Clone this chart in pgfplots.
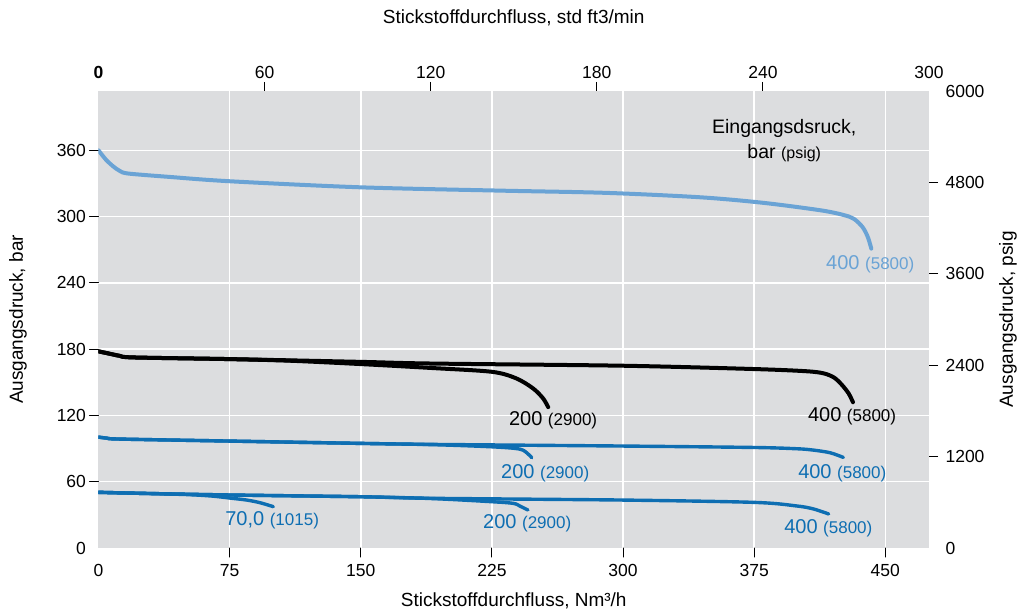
\documentclass[border=0pt]{standalone}
\usepackage{fontspec}
\setmainfont{Liberation Sans}
\usepackage{pgfplots}
\pgfplotsset{compat=1.18}
\definecolor{bg}{RGB}{220,221,223}
\definecolor{lblue}{RGB}{106,163,213}
\definecolor{mblue}{RGB}{14,110,178}
\newcommand{\tfont}{\fontsize{17.5}{20}\selectfont}
\newcommand{\lfont}{\fontsize{19}{22}\selectfont}
\newcommand{\lab}[2]{{\fontsize{20}{24}\selectfont #1\ }{\fontsize{17}{20}\selectfont (#2)}}
\begin{document}
\begin{tikzpicture}
\path[use as bounding box] (-98.5pt,-65pt) rectangle (931.5pt,548pt);
\begin{axis}[
  at={(0,0)}, anchor=south west,
  scale only axis, width=830.5pt, height=457pt,
  xmin=0, xmax=475, ymin=0, ymax=413.7,
  xtick={75,150,...,450}, ytick={60,120,...,360},
  extra x ticks={0}, extra y ticks={0},
  extra tick style={tick style={draw=none}, grid=none},
  xtick pos=left, ytick pos=left,
  tick align=outside,
  major tick length=9pt,
  tick style={black, line width=1pt},
  separate axis lines,
  axis line style={draw=none},
  grid=major, major grid style={white, line width=1.5pt},
  axis background/.style={fill=bg},
  ticklabel style={font=\tfont},
  xticklabel style={yshift=-4pt},
  /pgf/number format/assume math mode=true,
  xlabel={Stickstoffdurchfluss, Nm³/h},
  ylabel={Ausgangsdruck, bar},
  label style={font=\lfont},
  xlabel style={at={(axis description cs:0.5,-0.116)}, anchor=center},
  ylabel style={at={(axis description cs:-0.0969,0.5)}, anchor=center},
  line cap=round, line join=round,
]
% light blue 400
\addplot[lblue, line width=4pt, smooth] coordinates {
(0,360) (4,352) (8,346) (12,341.5) (17,339) (40,336) (75,332) (150,326.5) (230,323.5) (290,321.5) (344,317.5) (380,312.5) (413,305.7) (426,301.5) (432,298) (437,290.5) (440,281.5) (442,271)};
% black 400
\addplot[black, line width=4pt, smooth] coordinates {
(0,178) (6,176) (12,174) (20,172.5) (75,171) (150,168.5) (190,167) (300,165) (375,162) (405,160) (415,158) (421,154) (425,148) (429,140) (431.5,132)};
% black 200
\addplot[black, line width=4pt, smooth] coordinates {
(0,178) (6,176) (12,174) (20,172.5) (75,171) (110,169.5) (150,166.5) (190,163) (225,159.5) (239,153.5) (248.6,144.4) (254.3,135.4) (257.2,127.5)};
% blue mid 400
\addplot[mblue, line width=3.4pt, smooth] coordinates {
(0,100.4) (5,99.4) (12.6,98.6) (75,96.8) (150,94.7) (190,93.8) (300,92.3) (375,91) (400,89.8) (409,88.6) (418.5,86.2) (426,82)};
% blue mid 200
\addplot[mblue, line width=3.4pt, smooth] coordinates {
(0,100.4) (5,99.4) (12.6,98.6) (75,96.8) (150,94.7) (190,93.6) (225,91.6) (241,89.5) (245.9,84.8) (247.8,81.7)};
% blue low 400
\addplot[mblue, line width=3.4pt, smooth] coordinates {
(0,50.4) (23.7,49.5) (75,48) (150,46.4) (190,45) (300,43.4) (375,41.3) (399.6,38) (409,35.3) (417.6,30.8)};
% blue low 200
\addplot[mblue, line width=3.4pt, smooth] coordinates {
(0,50.4) (23.7,49.5) (75,48) (150,46.4) (190,44.8) (225,41.9) (237.3,40.4) (241.2,37.8) (245.6,34.4)};
% blue low 70
\addplot[mblue, line width=3.4pt, smooth] coordinates {
(0,50.4) (23.7,49.5) (50,48.4) (65,47) (75.2,45.2) (84.8,43.4) (92.4,41) (100,37.4)};
\node[text=lblue] at (axis cs:441.4,256.8) {\lab{400}{5800}};
\node[text=black] at (axis cs:260,115.8) {\lab{200}{2900}};
\node[text=black] at (axis cs:431,119.4) {\lab{400}{5800}};
\node[text=mblue] at (axis cs:255.5,67.8) {\lab{200}{2900}};
\node[text=mblue] at (axis cs:425.4,67.8) {\lab{400}{5800}};
\node[text=mblue] at (axis cs:99.3,25.3) {\lab{70,0}{1015}};
\node[text=mblue] at (axis cs:245.2,22.6) {\lab{200}{2900}};
\node[text=mblue] at (axis cs:417.4,18.1) {\lab{400}{5800}};
\node[align=center, font=\fontsize{19.5}{25}\selectfont] at (axis cs:392.2,368.6) {Eingangsdsruck,\\bar {\fontsize{16}{20}\selectfont (psig)}};
\end{axis}
\begin{axis}[
  at={(0,0)}, anchor=south west,
  scale only axis, width=830.5pt, height=457pt,
  xmin=0, xmax=300, ymin=0, ymax=6000,
  xtick={60,120,...,240}, ytick={1200,2400,...,4800},
  extra x ticks={0,300}, extra y ticks={0,6000},
  extra x tick labels={\textbf{0},300},
  extra tick style={tick style={draw=none}},
  xtick pos=right, ytick pos=right,
  xticklabel pos=right, yticklabel pos=right,
  tick align=outside,
  major tick length=9pt,
  tick style={black, line width=1pt},
  separate axis lines,
  axis line style={draw=none},
  ticklabel style={font=\tfont},
  yticklabel style={xshift=4pt},
  scaled y ticks=false,
  /pgf/number format/1000 sep={},
  /pgf/number format/assume math mode=true,
  xlabel={Stickstoffdurchfluss, std ft3/min},
  ylabel={Ausgangsdruck, psig},
  label style={font=\lfont},
  xlabel style={at={(axis description cs:0.5,1.1597)}, anchor=center},
  ylabel style={at={(axis description cs:1.0951,0.5)}, anchor=center},
]
\addplot[draw=none] coordinates {(0,0)};
\end{axis}
\end{tikzpicture}
\end{document}
